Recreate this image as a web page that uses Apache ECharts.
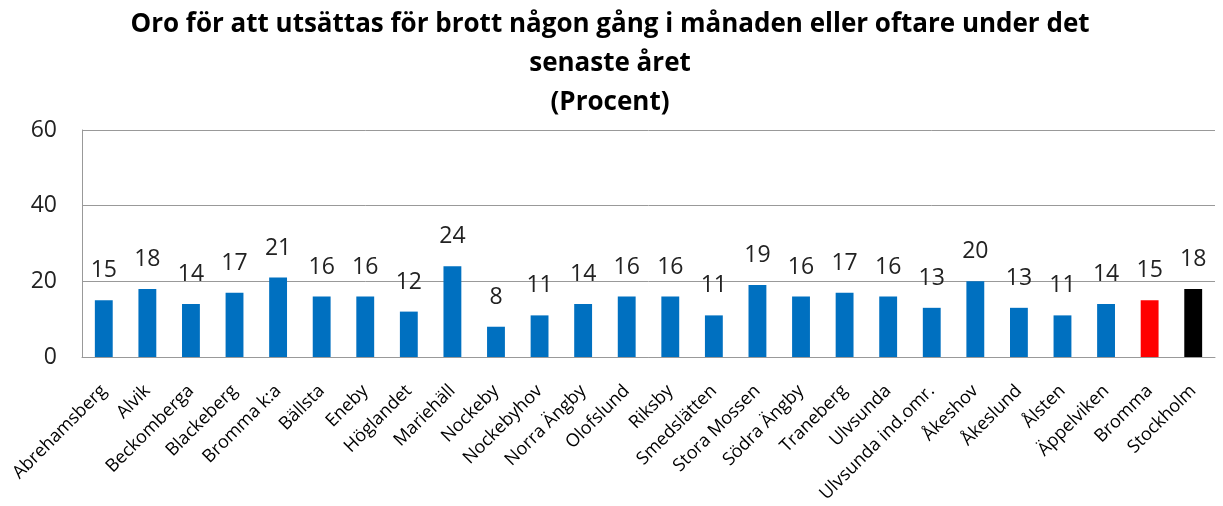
<!DOCTYPE html>
<html>
<head>
<meta charset="utf-8">
<script src="https://cdn.jsdelivr.net/npm/echarts@6/dist/echarts.min.js"></script>
<style>
  html, body { margin: 0; padding: 0; background: #fff; }
  #container { width: 1223px; height: 506px; }
</style>
</head>
<body>
<div id="container"></div>
<script>
// Områden i Bromma + jämförelser
var categories = ["Abrehamsberg", "Alvik", "Beckomberga", "Blackeberg", "Bromma k:a", "Bällsta",
    "Eneby", "Höglandet", "Mariehäll", "Nockeby", "Nockebyhov", "Norra Ängby", "Olofslund",
    "Riksby", "Smedslätten", "Stora Mossen", "Södra Ängby", "Traneberg", "Ulvsunda",
    "Ulvsunda ind.omr.", "Åkeshov", "Åkeslund", "Ålsten", "Äppelviken", "Bromma", "Stockholm"];
var values = [15, 18, 14, 17, 21, 16, 16, 12, 24, 8, 11, 14, 16, 16, 11, 19, 16, 17, 16, 13, 20, 13, 11, 14, 15, 18];
var yTicks = [0, 20, 40, 60];

var colorFor = function (name) {
    if (name == "Bromma") return "#FF0000";
    if (name == "Stockholm") return "#000000";
    return "#0070C0";
};

var dom = document.getElementById("container");
var myChart = echarts.init(dom);
var option = {
    animation: false,
    textStyle: { fontFamily: "Open Sans" },
    title: {
        text: "Oro för att utsättas för brott någon gång i månaden eller oftare under det\nsenaste året\n(Procent)",
        left: 605,
        textAlign: "center",
        top: 0,
        textStyle: {
            fontFamily: "Open Sans",
            fontSize: 26,
            fontWeight: "bold",
            color: "#000",
            lineHeight: 39
        }
    },
    grid: { left: 82, right: 8, top: 130, bottom: 149, containLabel: false },
    xAxis: {
        type: "category",
        data: categories,
        axisLine: { lineStyle: { color: "#999", width: 1 } },
        axisTick: { show: false },
        axisLabel: {
            interval: 0,
            rotate: 45,
            fontSize: 18,
            color: "#000",
            margin: 31
        }
    },
    yAxis: {
        type: "value",
        min: yTicks[0],
        max: yTicks[yTicks.length - 1],
        interval: 20,
        axisLine: { show: true, lineStyle: { color: "#999" } },
        axisTick: { show: false },
        splitLine: { lineStyle: { color: "#999" } },
        axisLabel: { fontSize: 23, color: "#222", margin: 25 }
    },
    series: [{
        type: "bar",
        barWidth: "41%",
        data: values.map(function (v, i) {
            return { value: v, itemStyle: { color: colorFor(categories[i]) } };
        }),
        label: {
            show: true,
            position: "top",
            fontSize: 23,
            color: "#222",
            distance: 18
        }
    }]
};
myChart.setOption(option);
</script>
</body>
</html>
